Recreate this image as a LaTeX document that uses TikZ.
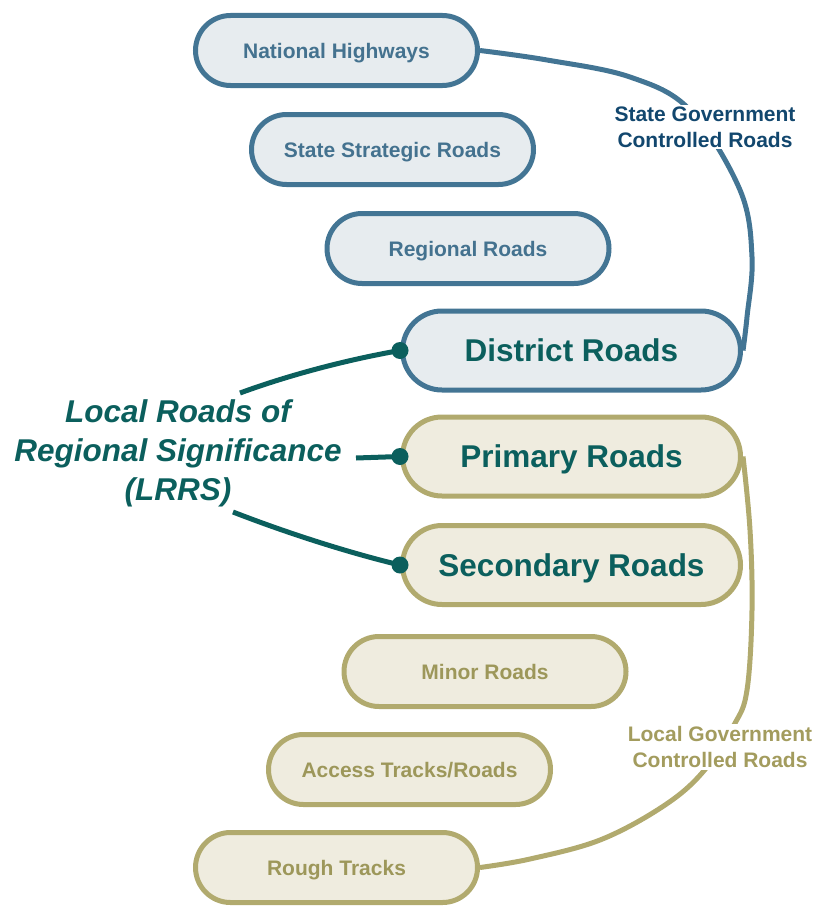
\documentclass[tikz,border=0pt]{standalone}
\usepackage{fontspec}
\setmainfont{Liberation Sans}
\definecolor{stline}{HTML}{437594}
\definecolor{stfill}{HTML}{E7ECEF}
\definecolor{sttext}{HTML}{44728F}
\definecolor{stlabel}{HTML}{12476E}
\definecolor{lcline}{HTML}{B1AA6E}
\definecolor{lcfill}{HTML}{EFECDF}
\definecolor{lctext}{HTML}{9D975A}
\definecolor{lclabel}{HTML}{A39C5E}
\definecolor{lrrs}{HTML}{0B5F5D}
\begin{document}
\begin{tikzpicture}[x=1pt,y=-1pt,
  road/.style={draw, line width=5pt, align=center, inner sep=0pt,
    text depth=0pt,
    minimum width=282pt, minimum height=70pt, rounded corners=35pt,
    font=\bfseries\fontsize{21}{25}\selectfont},
  bigroad/.style={road, minimum width=338pt, minimum height=79pt,
    rounded corners=39.5pt, text=lrrs,
    font=\bfseries\fontsize{31.5}{36}\selectfont},
  state/.style={draw=stline, fill=stfill, text=sttext},
  local/.style={draw=lcline, fill=lcfill, text=lctext},
  link/.style={line width=5pt},
  grouplabel/.style={fill=white, inner sep=2pt, align=center,
    font=\bfseries\fontsize{21}{26}\selectfont},
  dot/.style={fill=lrrs}]
\useasboundingbox (0,0) rectangle (817,907);

% state controlled hierarchy
\node[road, state] (nh) at (336.5,50.5) {National Highways};
\node[road, state] (ss) at (392.5,149.5) {State Strategic Roads};
\node[road, state] (rr) at (468,248.5) {Regional Roads};
\node[bigroad, state, text=lrrs] (dr) at (571.5,350.5) {District Roads};

% local government hierarchy
\node[bigroad, local, text=lrrs] (pr) at (571.5,456.5) {Primary Roads};
\node[bigroad, local, text=lrrs] (sr) at (571.5,565) {Secondary Roads};
\node[road, local] (mr) at (485,671.5) {Minor Roads};
\node[road, local] (at) at (409.5,769.5) {Access Tracks/Roads};
\node[road, local] (rt) at (336.5,867.5) {Rough Tracks};

% brackets grouping the two jurisdictions
\draw[link, stline] plot[smooth, tension=0.6] coordinates
  {(nh.east) (547,60) (630,77) (690,110) (740,190) (752,257) (747,317) (dr.east)};
\draw[link, lcline] plot[smooth, tension=0.6] coordinates
  {(pr.east) (750,530) (752,610) (747,690) (734,725) (702,773) (662,807) (600,840) (530,859) (rt.east)};

\node[grouplabel, text=stlabel] (stg) at (705,127) {State Government\\Controlled Roads};
\node[grouplabel, text=lclabel] (lcg) at (720,747) {Local Government\\Controlled Roads};

% LRRS label and its links
\node[align=center, text=lrrs, font=\bfseries\itshape\fontsize{31.5}{39}\selectfont]
  (lr) at (178,453) {Local Roads of\\Regional Significance\\(LRRS)};
\coordinate (l1) at (240,393);
\coordinate (l2) at (356,458);
\coordinate (l3) at (233,512);
\draw[link, lrrs] (l1) .. controls (300,371) and (362,357) .. (dr.west);
\draw[link, lrrs] (l2) -- (pr.west);
\draw[link, lrrs] (l3) .. controls (300,538) and (362,556) .. (sr.west);
\fill[dot] (dr.west) circle (8.5);
\fill[dot] (pr.west) circle (8.5);
\fill[dot] (sr.west) circle (8.5);
\end{tikzpicture}
\end{document}
